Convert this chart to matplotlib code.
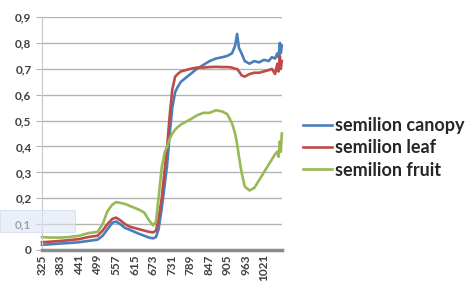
import numpy as np
import matplotlib.pyplot as plt
from matplotlib.patches import Rectangle

plt.rcParams['font.family'] = ['Lato', 'DejaVu Sans']

# wavelength (nm) and reflectance
wl = [325, 350, 383, 410, 441, 470, 499, 515, 530, 545, 557, 570, 585, 600,
      615, 630, 645, 660, 673, 682, 690, 700, 710, 717, 725, 733, 742, 750,
      760, 775, 790, 810, 830, 850, 870, 890, 905, 920, 930, 936, 942, 950,
      960, 975, 990, 1005, 1020, 1035, 1045, 1055, 1062, 1066, 1070, 1073, 1076]

canopy = [0.020, 0.022, 0.025, 0.027, 0.030, 0.035, 0.040, 0.055, 0.080, 0.105,
          0.110, 0.100, 0.085, 0.078, 0.070, 0.062, 0.055, 0.048, 0.045, 0.050,
          0.080, 0.160, 0.260, 0.330, 0.450, 0.550, 0.610, 0.630, 0.650, 0.665,
          0.680, 0.700, 0.715, 0.730, 0.740, 0.745, 0.750, 0.760, 0.790, 0.835,
          0.780, 0.760, 0.730, 0.720, 0.730, 0.725, 0.735, 0.730, 0.745, 0.740,
          0.760, 0.745, 0.800, 0.760, 0.790]

leaf = [0.030, 0.032, 0.035, 0.038, 0.042, 0.050, 0.055, 0.075, 0.100, 0.120,
        0.125, 0.115, 0.100, 0.090, 0.085, 0.080, 0.075, 0.070, 0.068, 0.075,
        0.120, 0.200, 0.320, 0.400, 0.520, 0.620, 0.670, 0.680, 0.690, 0.695,
        0.700, 0.705, 0.705, 0.707, 0.708, 0.707, 0.707, 0.705, 0.700, 0.700,
        0.690, 0.675, 0.670, 0.680, 0.685, 0.685, 0.690, 0.695, 0.700, 0.680,
        0.720, 0.690, 0.750, 0.700, 0.730]

fruit = [0.050, 0.048, 0.048, 0.050, 0.055, 0.065, 0.070, 0.100, 0.150, 0.175,
         0.185, 0.182, 0.178, 0.170, 0.163, 0.155, 0.145, 0.115, 0.095, 0.110,
         0.200, 0.320, 0.380, 0.400, 0.430, 0.450, 0.465, 0.475, 0.485, 0.495,
         0.505, 0.520, 0.530, 0.530, 0.540, 0.535, 0.525, 0.490, 0.450, 0.410,
         0.360, 0.300, 0.245, 0.230, 0.240, 0.270, 0.300, 0.330, 0.350, 0.370,
         0.380, 0.360, 0.420, 0.380, 0.450]

labels = ['semilion canopy', 'semilion leaf', 'semilion fruit']
colors = ['#4a7ebb', '#be4b48', '#98b954']
xticks = list(range(325, 1022, 58))
yticks = [0, 0.1, 0.2, 0.3, 0.4, 0.5, 0.6, 0.7, 0.8, 0.9]

fig = plt.figure(figsize=(4.72, 2.9), dpi=100)
ax = fig.add_axes([0.089, 0.138, 0.508, 0.803])

for y, lab, c in zip([canopy, leaf, fruit], labels, colors):
    ax.plot(wl, y, color=c, lw=1.9, label=lab, clip_on=False)

ax.set_xlim(325, 1076)
ax.set_ylim(0, 0.9)
ax.set_yticks(yticks)
ax.set_yticklabels([('%.1f' % v).replace('.', ',') if v else '0' for v in yticks])
ax.set_xticks(xticks)
ax.set_xticklabels([str(v) for v in xticks], rotation=90)

ax.grid(axis='y', color='#b4b4b4', lw=1)
ax.set_axisbelow(True)
for s in ['top', 'right']:
    ax.spines[s].set_visible(False)
ax.spines['left'].set_color('#c8c8c8')
ax.spines['bottom'].set_color('#8c8c8c')
ax.spines['bottom'].set_linewidth(2.5)
ax.tick_params(axis='y', length=4, color='#b4b4b4', labelsize=8.5, labelcolor='#404040')
ax.tick_params(axis='x', length=0, labelsize=8.5, labelcolor='#404040', pad=3)
for t in ax.get_xticklabels() + ax.get_yticklabels():
    t.set_fontweight('bold')

leg = fig.legend(loc='center left', bbox_to_anchor=(0.642, 0.49), frameon=False,
                 borderpad=0, borderaxespad=0, handlelength=1.6,
                 handletextpad=0.15, labelspacing=0.3,
                 prop={'weight': 'bold', 'size': 13})
for t in leg.get_texts():
    t.set_color('#262626')

# faint selection box over the 0,1 label
fig.patches.append(Rectangle((0.0, 1 - 232 / 290), 75 / 472, 22 / 290,
                             transform=fig.transFigure, facecolor='#dfe7f4',
                             edgecolor='#c9d5ea', alpha=0.6, lw=0.8))

fig.savefig('out.png', dpi=100)
